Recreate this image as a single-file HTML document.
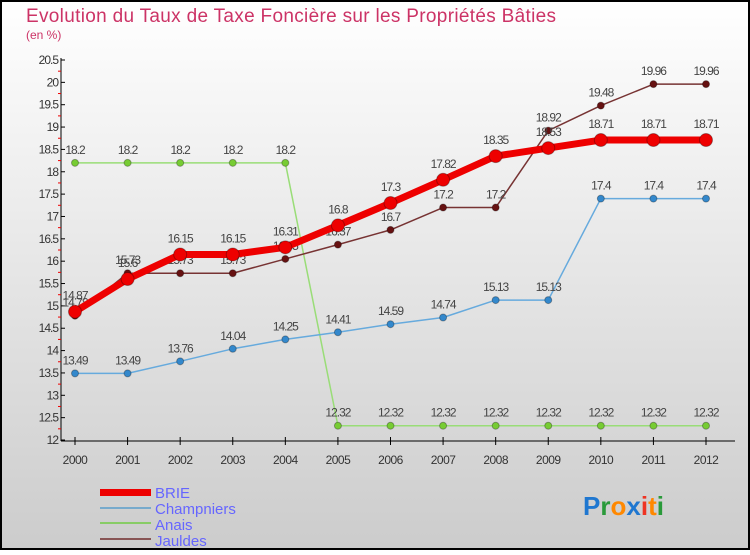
<!DOCTYPE html>
<html><head><meta charset="utf-8"><style>
html,body{margin:0;padding:0;}
body{width:750px;height:550px;overflow:hidden;font-family:"Liberation Sans",sans-serif;}
svg text{font-family:"Liberation Sans",sans-serif;}
</style></head><body>
<svg id="chart" width="750" height="550" viewBox="0 0 750 550">
<defs><linearGradient id="bg" x1="0" y1="0" x2="0" y2="1"><stop offset="0" stop-color="#ffffff"/><stop offset="1" stop-color="#cccccc"/></linearGradient></defs>
<rect x="1" y="1" width="748" height="548" fill="url(#bg)" stroke="#000" stroke-width="2"/>
<text x="26" y="22" font-size="19" fill="#cc3366" textLength="530" lengthAdjust="spacing">Evolution du Taux de Taxe Foncière sur les Propriétés Bâties</text>
<text x="26" y="39" font-size="12" fill="#cc3366">(en %)</text>
<g id="axes"></g>
<g id="series"></g>
<g id="legend">
<rect x="100" y="489" width="51" height="7" fill="#ee0000"/>
<text x="155" y="498" font-size="15" fill="#6666ff">BRIE</text>
<rect x="100" y="507" width="51" height="2" fill="#77aacc"/>
<text x="155" y="514" font-size="15" fill="#6666ff">Champniers</text>
<rect x="100" y="522" width="51" height="2" fill="#88cc66"/>
<text x="155" y="530" font-size="15" fill="#6666ff">Anais</text>
<rect x="100" y="538" width="51" height="2" fill="#885555"/>
<text x="155" y="546" font-size="15" fill="#6666ff">Jauldes</text>
</g>
<text x="583" y="515" font-size="26" font-weight="bold"><tspan fill="#1f77d0">P</tspan><tspan fill="#2a9a3a">r</tspan><tspan fill="#ff8800">o</tspan><tspan fill="#1f77d0">x</tspan><tspan fill="#ee3322">i</tspan><tspan fill="#ff8800">t</tspan><tspan fill="#2a9a3a">i</tspan></text>
</svg>
<script>
const years=[2000,2001,2002,2003,2004,2005,2006,2007,2008,2009,2010,2011,2012];
const yTicks=[12,12.5,13,13.5,14,14.5,15,15.5,16,16.5,17,17.5,18,18.5,19,19.5,20,20.5];
const brie=[14.87,15.6,16.15,16.15,16.31,16.8,17.3,17.82,18.35,18.53,18.71,18.71,18.71];
const champniers=[13.49,13.49,13.76,14.04,14.25,14.41,14.59,14.74,15.13,15.13,17.4,17.4,17.4];
const anais=[18.2,18.2,18.2,18.2,18.2,12.32,12.32,12.32,12.32,12.32,12.32,12.32,12.32];
const jauldes=[14.78,15.73,15.73,15.73,16.05,16.37,16.7,17.2,17.2,18.92,19.48,19.96,19.96];
const NS="http://www.w3.org/2000/svg";
function xs(i){return 75+i*(706-75)/(years.length-1);}
function ys(v){return 440-(v-12)*(380/8.5);}
function mk(tag,attrs,parent){const e=document.createElementNS(NS,tag);for(const k in attrs)e.setAttribute(k,attrs[k]);parent.appendChild(e);return e;}
const ax=document.getElementById('axes');
let l=mk('line',{x1:61,y1:58,x2:61,y2:441,stroke:'#000'},ax);


l=mk('line',{x1:61,y1:441,x2:735,y2:441,stroke:'#000'},ax);


yTicks.forEach((v,k)=>{const y=ys(v);
 mk('line',{x1:61,y1:y,x2:65,y2:y,stroke:'#000'},ax);
 if(k<yTicks.length-1){const ym=(y+ys(yTicks[k+1]))/2;mk('line',{x1:58,y1:ym,x2:61,y2:ym,stroke:'#e00'},ax);}
 const t=mk('text',{x:58,y:y+4,'font-size':12,'text-anchor':'end',fill:'#333','letter-spacing':'-1'},ax);
 t.textContent=String(v);
 
 
});
years.forEach((yr,i)=>{const x=xs(i);
 mk('line',{x1:x,y1:437,x2:x,y2:445,stroke:'#000'},ax);
 const t=mk('text',{x:x,y:464,'font-size':12,'text-anchor':'middle',fill:'#333','letter-spacing':'-0.5'},ax);
 t.textContent=String(yr);
 
 
});
const sg=document.getElementById('series');
function draw(vals,name,color,lw,r,dot,lblDy){
 const g=mk('g',{},sg);
 
 
 const p=mk('polyline',{points:vals.map((v,i)=>xs(i)+','+ys(v)).join(' '),fill:'none',stroke:color,'stroke-width':lw,'stroke-linejoin':'round'},g);
 
 
 vals.forEach((v,i)=>{
  const c=mk('circle',{cx:xs(i),cy:ys(v),r:r,fill:dot,stroke:'rgba(0,0,0,0.3)','stroke-width':1},g);
  
  
  const t=mk('text',{x:xs(i),y:ys(v)+lblDy,'font-size':12,'text-anchor':'middle',fill:'#444','letter-spacing':'-1'},g);
  t.textContent=String(v);
  
  
 });
}
draw(anais,'anais','#99dd77',1.5,3.5,'#77cc33',-9);
draw(champniers,'champniers','#66aadd',1.5,3.5,'#3388cc',-9);
draw(jauldes,'jauldes','#773333',1.5,3.5,'#661111',-9);
draw(brie,'brie','#ee0000',7,6.5,'#ee0000',-12);
</script>
</body></html>
